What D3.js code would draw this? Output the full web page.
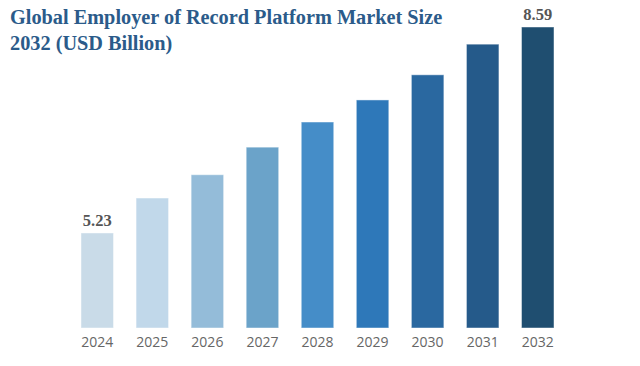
<!DOCTYPE html>
<html>
<head>
<meta charset="utf-8">
<script src="https://cdn.jsdelivr.net/npm/d3@7"></script>
<style>
  body { margin: 0; background: #fff; }
  #graphic svg { display: block; }
</style>
</head>
<body>
<div id="graphic"></div>
<script>
var years = ["2024", "2025", "2026", "2027", "2028", "2029", "2030", "2031", "2032"];
var values = [5.23, 5.80, 6.18, 6.63, 7.04, 7.40, 7.81, 8.31, 8.59];
var colors = ["#c9dbe8", "#c1d8ea", "#94bcd9", "#6ba3c9", "#458dc8", "#2e78b9", "#2a68a0", "#255a8a", "#1f4e70"];
var labelled = ["2024", "2032"];

var graphic = new Object;

graphic.create = function() {
  var width = 640, height = 366, svg, x, y, g;
  svg = d3.select("#graphic").append("svg").attr("width", width).attr("height", height);

  x = d3.scaleBand().domain(years).range([70, 565]).paddingInner(0.41).paddingOuter(0.2);
  y = d3.scaleLinear().domain([3.68, 8.59]).range([328, 27]);

  g = svg.append("g");
  g.selectAll("rect").data(years).enter().append("rect")
    .attr("x", function(d) { return x(d); })
    .attr("y", function(d, i) { return y(values[i]); })
    .attr("width", x.bandwidth())
    .attr("height", function(d, i) { return 328 - y(values[i]); })
    .attr("fill", function(d, i) { return colors[i]; })
    .attr("stroke", "rgba(255,255,255,0.45)")
    .attr("stroke-width", 1);

  g.selectAll("text.val").data(years.filter(function(d) { return labelled.indexOf(d) >= 0; })).enter()
    .append("text").attr("class", "val")
    .attr("x", function(d) { return x(d) + x.bandwidth() / 2; })
    .attr("y", function(d) { return y(values[years.indexOf(d)]) - 7; })
    .attr("text-anchor", "middle")
    .attr("font-family", "'Liberation Serif', 'Times New Roman', serif")
    .attr("font-weight", "bold")
    .attr("font-size", 16.5)
    .attr("fill", "#555")
    .text(function(d) { return values[years.indexOf(d)].toFixed(2); });

  svg.append("g").attr("transform", "translate(0,328)")
    .call(d3.axisBottom(x).tickSize(0).tickPadding(9))
    .call(function(a) {
      a.select(".domain").remove();
      a.selectAll("text").attr("font-family", "'Open Sans', sans-serif").attr("font-size", 14).attr("fill", "#666").attr("dy", "0.71em");
    });

  var title = svg.append("text")
    .attr("font-family", "'Liberation Serif', 'Times New Roman', serif")
    .attr("font-weight", "bold")
    .attr("font-size", 20.3)
    .attr("fill", "#2b5b8a");
  title.append("tspan").attr("x", 10).attr("y", 24).text("Global Employer of Record Platform Market Size");
  title.append("tspan").attr("x", 10).attr("y", 50).text("2032 (USD Billion)");
};

graphic.create();
</script>
</body>
</html>
